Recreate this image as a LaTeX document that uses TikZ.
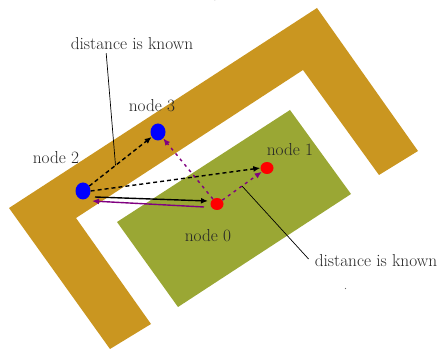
\documentclass[tikz,border=0pt]{standalone}
\usetikzlibrary{arrows.meta,calc,shapes.geometric}
\definecolor{wallc}{RGB}{202,150,32}
\definecolor{roomc}{RGB}{154,167,52}
\definecolor{arrp}{RGB}{128,0,128}
\begin{document}
\begin{tikzpicture}[x=1pt,y=-1pt,
  lbl/.style={text=black!85,font=\fontsize{17.3}{20}\selectfont,inner sep=0pt},
  bnode/.style={ellipse,fill=blue,minimum width=15pt,minimum height=17pt,inner sep=0pt},
  rnode/.style={ellipse,fill=red,minimum width=13pt,minimum height=12pt,inner sep=0pt},
  blk/.style={black,line width=1.4pt,-{Latex[length=7pt,width=6pt]}},
  blkd/.style={blk,dash pattern=on 4pt off 3pt},
  pur/.style={arrp,line width=1.4pt,-{Latex[length=7pt,width=6pt]}},
  purd/.style={pur,dash pattern=on 3pt off 4pt},
  lead/.style={black,line width=0.7pt}]
\useasboundingbox (0,0) rectangle (440,350);
\begin{scope}
\clip (0,0) rectangle (440,350);
\node[anchor=base,font=\fontsize{30}{36}\sffamily\selectfont,inner sep=0pt] (title) at (215,-5) {g};
\end{scope}
% wall
\fill[wallc] (9,208) -- (317,8) -- (418,151) -- (379,175) -- (303,70) -- (76,218) -- (151,324) -- (110,349) -- cycle;
% room
\fill[roomc] (290,110) -- (351,194) -- (178,307) -- (117,222) -- cycle;
% nodes
\node[bnode] (n2) at (83,191) {};
\node[bnode] (n3) at (158,132) {};
\node[rnode] (n0) at (217,204) {};
\node[rnode] (n1) at (267,168) {};
\node[lbl] (l3) at (152,106) {node 3};
\node[lbl] (l2) at (56,158) {node 2};
\node[lbl] (l1) at (290,150) {node 1};
\node[lbl] (l0) at (208,236) {node 0};
\node[lbl] (d1) at (132,44) {distance is known};
\node[lbl] (d2) at (376,261) {distance is known};
% arrows
\draw[blkd] (n2) -- (n3) coordinate[pos=0.42] (m23);
\draw[blkd] (n2.east) -- (n1.west);
\draw[blk] ($(n2)+(12,6)$) -- ($(n0)+(-9,-3)$);
\draw[pur] ($(n0)+(-13,3)$) -- ($(n2)+(9,10)$);
\draw[purd] (n0) -- (n3);
\draw[purd] (n0) -- (n1) coordinate[pos=0.5] (m01);
% leaders
\draw[lead] ($(d1.south west)!0.29!(d1.south east)+(0,3)$) coordinate (t1) -- (m23);
\draw[lead] (m01) -- ($(d2.west)+(-6,-2)$) coordinate (t2);
\fill[black!60] (345.5,288.5) circle (0.6);
\end{tikzpicture}
\end{document}
